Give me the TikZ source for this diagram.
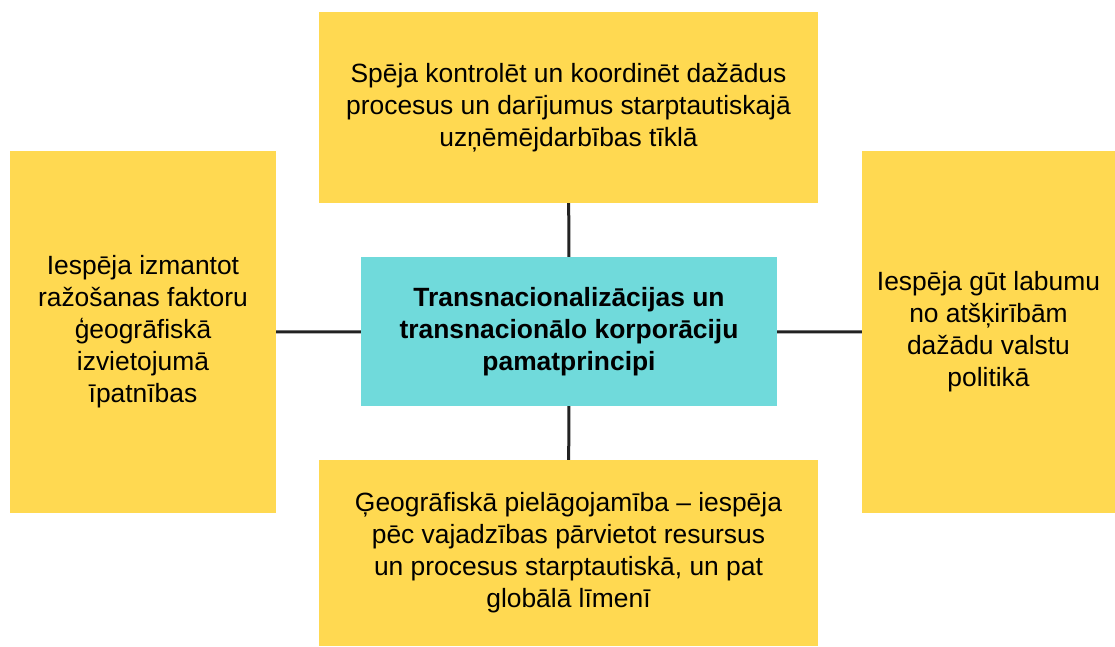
\documentclass[tikz,border=0pt]{standalone}
\usepackage{fontspec}
\setmainfont{Liberation Sans}
\definecolor{boxyellow}{HTML}{FFD951}
\definecolor{boxcyan}{HTML}{70DADB}
\definecolor{linkgray}{HTML}{222222}
\begin{document}
\begin{tikzpicture}[x=1pt,y=-1pt,
    side/.style={fill=boxyellow,inner sep=0pt,align=center,
      font=\fontsize{26.4}{32}\selectfont},
    core/.style={fill=boxcyan,inner sep=0pt,align=center,
      font=\fontsize{26.4}{32}\selectfont\bfseries},
    link/.style={draw=linkgray,line width=3pt}]
    \useasboundingbox (0,0) rectangle (1115,646);

    \node[core,minimum width=416pt,minimum height=149pt] (core) at (569,331.5)
      {Transnacionalizācijas un\\transnacionālo korporāciju\\pamatprincipi};
    \node[side,minimum width=499pt,minimum height=191pt] (top) at (568.5,107.5)
      {Spēja kontrolēt un koordinēt dažādus\\procesus un darījumus starptautiskajā\\uzņēmējdarbības tīklā};
    \node[side,minimum width=266pt,minimum height=362pt] (left) at (143,332)
      {Iespēja izmantot\\ražošanas faktoru\\ģeogrāfiskā\\izvietojumā\\īpatnības};
    \node[side,minimum width=253pt,minimum height=362pt] (right) at (988.5,332)
      {Iespēja gūt labumu\\no atšķirībām\\dažādu valstu\\politikā};
    \node[side,minimum width=499pt,minimum height=186pt] (bottom) at (568.5,553)
      {Ģeogrāfiskā pielāgojamība – iespēja\\pēc vajadzības pārvietot resursus\\un procesus starptautiskā, un pat\\globālā līmenī};

    \draw[link] (core) -- (top);
    \draw[link] (core) -- (bottom);
    \draw[link] (core) -- (left);
    \draw[link] (core) -- (right);
  \end{tikzpicture}
\end{document}
